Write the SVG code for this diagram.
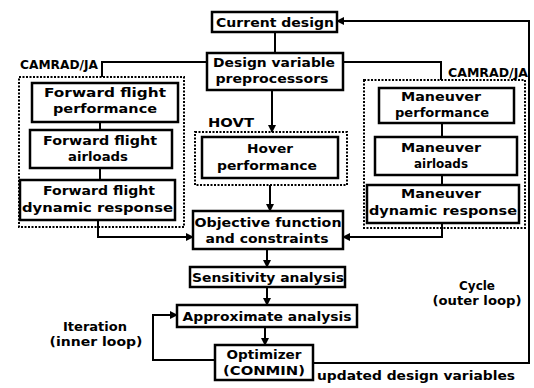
<svg xmlns="http://www.w3.org/2000/svg" width="534" height="388" viewBox="0 0 534 388">
<defs>
<style>
.box{fill:#fff;stroke:#000;stroke-width:2.5}
.grp{fill:none;stroke:#000;stroke-width:2;stroke-dasharray:2 1.5}
.ln{fill:none;stroke:#000;stroke-width:2}
text{font-family:"DejaVu Sans",sans-serif;font-weight:bold;font-size:13px;fill:#000}
.c{text-anchor:middle}
.lb{font-size:12px}
</style>
<marker id="ah" viewBox="0 0 8 8" refX="7" refY="4" markerWidth="4" markerHeight="4" orient="auto" markerUnits="strokeWidth">
<path d="M0,0 L8,4 L0,8 Z" fill="#000"/>
</marker>
</defs>
<rect width="534" height="388" fill="#fff"/>

<g id="connectors">
<path class="ln" d="M275,32 V53"/>
<path class="ln" d="M207,62 H102 V77"/>
<path class="ln" d="M343,62 H441 V80"/>
<path class="ln" d="M100,122 V130"/>
<path class="ln" d="M100,168 V180"/>
<path class="ln" d="M98,220 V237 H193" marker-end="url(#ah)"/>
<path class="ln" d="M442,123 V137"/>
<path class="ln" d="M442,175 V185"/>
<path class="ln" d="M442,223 V237 H343" marker-end="url(#ah)"/>
<path class="ln" d="M272,90 V132" marker-end="url(#ah)"/>
<path class="ln" d="M270,185 V211" marker-end="url(#ah)"/>
<path class="ln" d="M267,249 V267" marker-end="url(#ah)"/>
<path class="ln" d="M267,287 V305" marker-end="url(#ah)"/>
<path class="ln" d="M265,327 V345" marker-end="url(#ah)"/>
<path class="ln" d="M215,360 H153 V315 H177" marker-end="url(#ah)"/>
<path class="ln" d="M313,363 H529 V21 H337" marker-end="url(#ah)"/>
</g>

<g id="camrad-left">
<rect class="grp" x="19" y="77" width="165" height="150"/>
<text class="lb" x="20" y="69" textLength="78" lengthAdjust="spacingAndGlyphs">CAMRAD/JA</text>
</g>
<g id="camrad-right">
<rect class="grp" x="364" y="80" width="161" height="148"/>
<text class="lb" x="448" y="77" textLength="80" lengthAdjust="spacingAndGlyphs">CAMRAD/JA</text>
</g>
<g id="hovt">
<rect class="grp" x="195" y="132" width="152" height="53"/>
<text class="lb" x="208" y="127" textLength="46" lengthAdjust="spacingAndGlyphs">HOVT</text>
</g>

<g id="current-design">
<rect class="box" x="212" y="12" width="125" height="20"/>
<text class="c" x="275" y="27" textLength="118" lengthAdjust="spacingAndGlyphs">Current design</text>
</g>
<g id="design-variable-preprocessors">
<rect class="box" x="207" y="53" width="136" height="37"/>
<text class="c" x="274" y="67" textLength="122" lengthAdjust="spacingAndGlyphs">Design variable</text>
<text class="c" x="272" y="83" textLength="113" lengthAdjust="spacingAndGlyphs">preprocessors</text>
</g>
<g id="ff-performance">
<rect class="box" x="32" y="83" width="146" height="39"/>
<text class="c" x="105" y="97" textLength="122" lengthAdjust="spacingAndGlyphs">Forward flight</text>
<text class="c" x="105" y="113" textLength="104" lengthAdjust="spacingAndGlyphs">performance</text>
</g>
<g id="ff-airloads">
<rect class="box" x="30" y="130" width="142" height="38"/>
<text class="c" x="100" y="145" textLength="114" lengthAdjust="spacingAndGlyphs">Forward flight</text>
<text class="c" x="98" y="161" textLength="60" lengthAdjust="spacingAndGlyphs">airloads</text>
</g>
<g id="ff-dynamic">
<rect class="box" x="20" y="180" width="155" height="40"/>
<text class="c" x="99" y="195" textLength="112" lengthAdjust="spacingAndGlyphs">Forward flight</text>
<text class="c" x="97.5" y="212" textLength="151" lengthAdjust="spacingAndGlyphs">dynamic response</text>
</g>
<g id="m-performance">
<rect class="box" x="379" y="88" width="135" height="35"/>
<text class="c" x="441" y="101" textLength="80" lengthAdjust="spacingAndGlyphs">Maneuver</text>
<text class="c" x="442" y="117" textLength="94" lengthAdjust="spacingAndGlyphs">performance</text>
</g>
<g id="m-airloads">
<rect class="box" x="375" y="137" width="142" height="38"/>
<text class="c" x="441" y="152" textLength="80" lengthAdjust="spacingAndGlyphs">Maneuver</text>
<text class="c" x="441" y="168" textLength="54" lengthAdjust="spacingAndGlyphs">airloads</text>
</g>
<g id="m-dynamic">
<rect class="box" x="367" y="185" width="152" height="38"/>
<text class="c" x="441" y="198" textLength="80" lengthAdjust="spacingAndGlyphs">Maneuver</text>
<text class="c" x="443" y="215" textLength="148" lengthAdjust="spacingAndGlyphs">dynamic response</text>
</g>
<g id="hover-performance">
<rect class="box" x="202" y="137" width="136" height="41"/>
<text class="c" x="270" y="153" textLength="46" lengthAdjust="spacingAndGlyphs">Hover</text>
<text class="c" x="267" y="170" textLength="100" lengthAdjust="spacingAndGlyphs">performance</text>
</g>
<g id="objective">
<rect class="box" x="193" y="211" width="150" height="38"/>
<text class="c" x="268" y="227" textLength="147" lengthAdjust="spacingAndGlyphs">Objective function</text>
<text class="c" x="267" y="243" textLength="123" lengthAdjust="spacingAndGlyphs">and constraints</text>
</g>
<g id="sensitivity">
<rect class="box" x="190" y="267" width="155" height="20"/>
<text class="c" x="268" y="282" textLength="152" lengthAdjust="spacingAndGlyphs">Sensitivity analysis</text>
</g>
<g id="approximate">
<rect class="box" x="177" y="305" width="180" height="22"/>
<text class="c" x="267" y="321" textLength="169" lengthAdjust="spacingAndGlyphs">Approximate analysis</text>
</g>
<g id="optimizer">
<rect class="box" x="215" y="345" width="98" height="35"/>
<text class="c" x="264" y="359" textLength="75" lengthAdjust="spacingAndGlyphs">Optimizer</text>
<text class="c" x="264" y="375" textLength="82" lengthAdjust="spacingAndGlyphs">(CONMIN)</text>
</g>

<g id="labels">
<text class="c" x="95" y="331" textLength="64" lengthAdjust="spacingAndGlyphs">Iteration</text>
<text class="c" x="96" y="346" textLength="93" lengthAdjust="spacingAndGlyphs">(inner loop)</text>
<text class="c" x="477" y="290" textLength="36" lengthAdjust="spacingAndGlyphs">Cycle</text>
<text class="c" x="477" y="305" textLength="89" lengthAdjust="spacingAndGlyphs">(outer loop)</text>
<text x="317" y="380" textLength="198" lengthAdjust="spacingAndGlyphs">updated design variables</text>
</g>
</svg>
